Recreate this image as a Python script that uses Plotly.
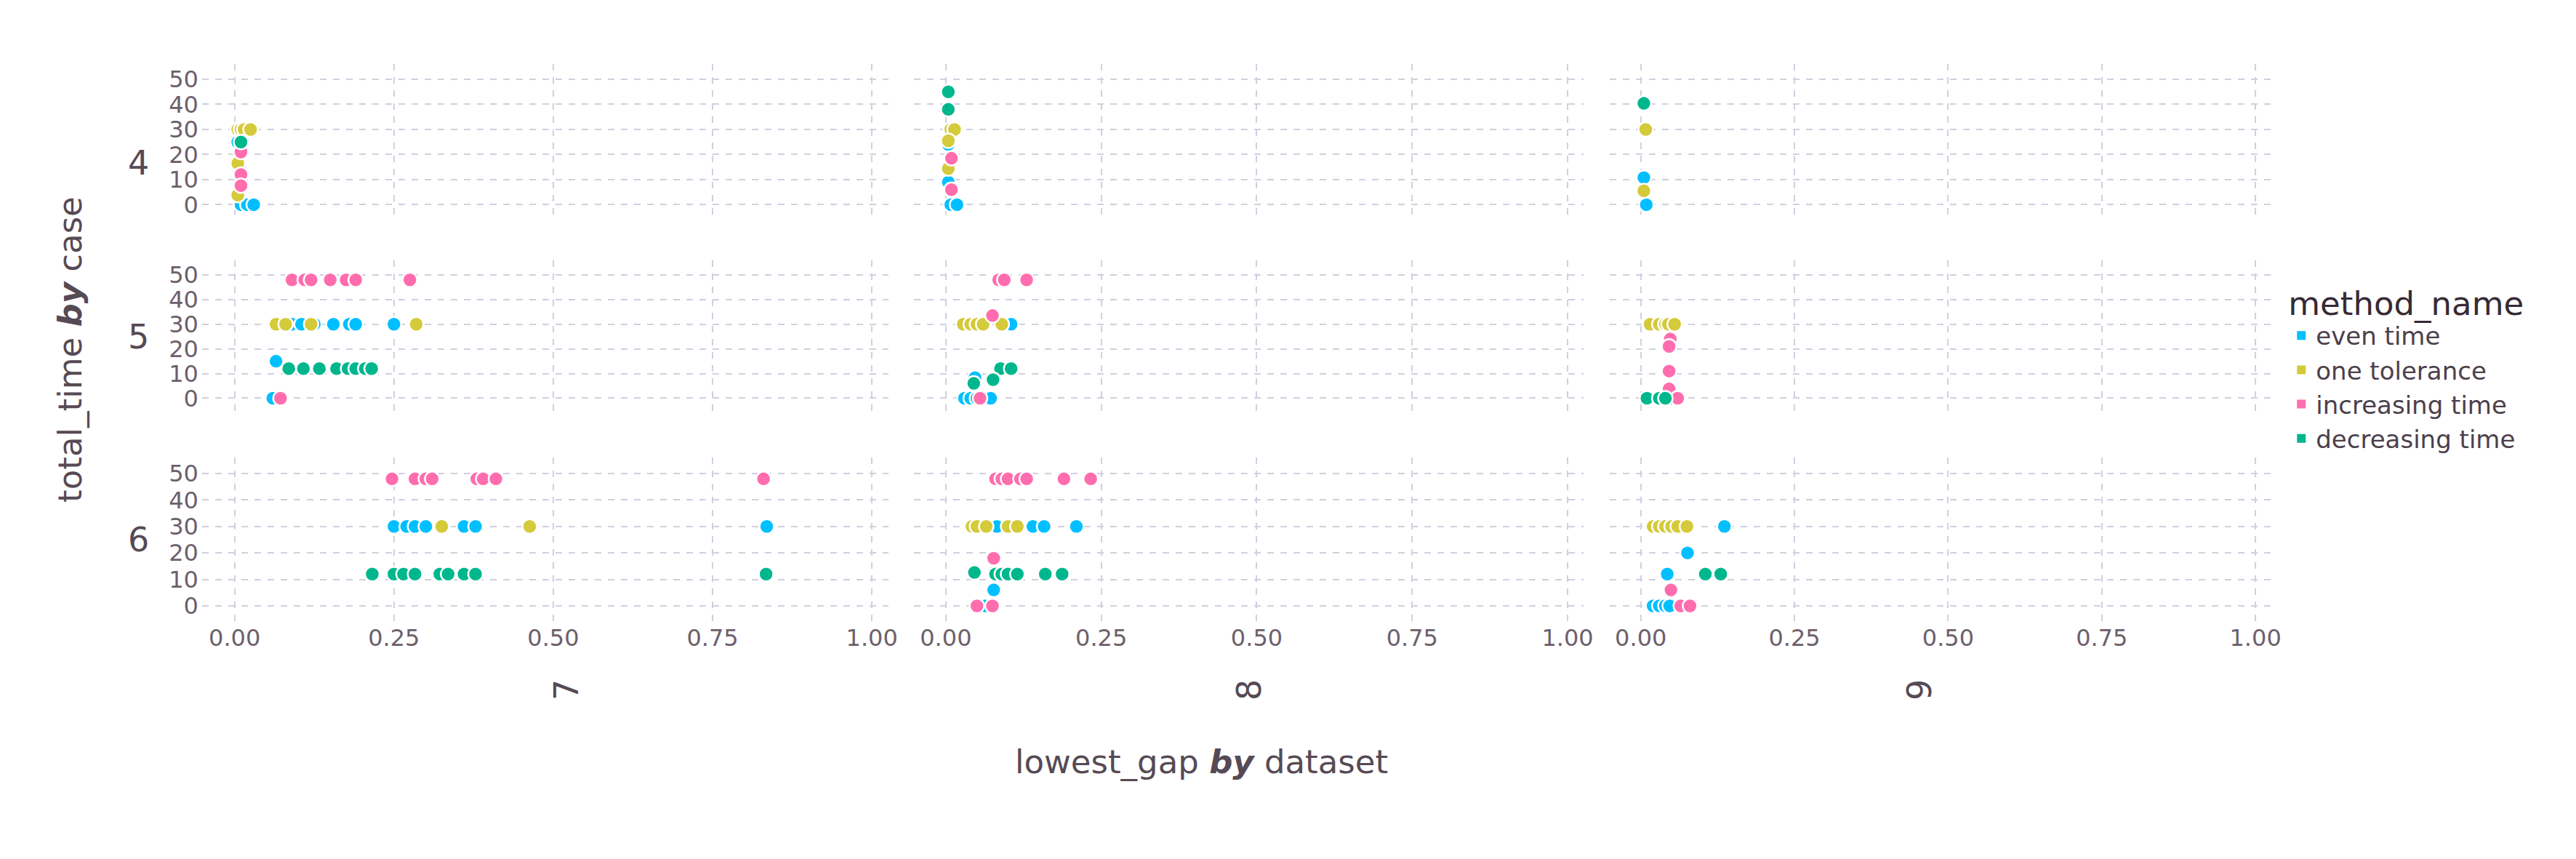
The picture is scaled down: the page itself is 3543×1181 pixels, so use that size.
import plotly.graph_objects as go
from plotly.subplots import make_subplots

methods = ["even time", "one tolerance", "increasing time", "decreasing time"]
colors = ["#00BFFF", "#D4CA3A", "#FF6DAE", "#00B78D"]
cases = [4, 5, 6]
datasets = [7, 8, 9]

# (case, dataset) -> method -> (lowest_gap list, total_time list)
pts = {
    (4, 7): {
        "even time": ([0.005, 0.008, 0.01, 0.02, 0.03], [25, 14, 0, 0, 0]),
        "one tolerance": ([0.005, 0.01, 0.015, 0.025, 0.005, 0.005], [30, 30, 30, 30, 16.5, 3.8]),
        "increasing time": ([0.01, 0.01, 0.01], [21, 12, 7.6]),
        "decreasing time": ([0.01], [25]),
    },
    (5, 7): {
        "even time": ([0.09, 0.105, 0.125, 0.155, 0.18, 0.19, 0.25, 0.065, 0.06], [30, 30, 30, 30, 30, 30, 30, 15, 0]),
        "one tolerance": ([0.065, 0.08, 0.12, 0.285], [30, 30, 30, 30]),
        "increasing time": ([0.09, 0.11, 0.12, 0.15, 0.175, 0.19, 0.275, 0.072], [48, 48, 48, 48, 48, 48, 48, 0]),
        "decreasing time": ([0.085, 0.108, 0.133, 0.16, 0.178, 0.19, 0.205, 0.215], [12, 12, 12, 12, 12, 12, 12, 12]),
    },
    (6, 7): {
        "even time": ([0.25, 0.27, 0.283, 0.3, 0.36, 0.378, 0.835], [30, 30, 30, 30, 30, 30, 30]),
        "one tolerance": ([0.325, 0.463], [30, 30]),
        "increasing time": ([0.247, 0.283, 0.3, 0.31, 0.38, 0.39, 0.41, 0.83], [48, 48, 48, 48, 48, 48, 48, 48]),
        "decreasing time": ([0.216, 0.25, 0.265, 0.283, 0.322, 0.335, 0.36, 0.378, 0.834], [12, 12, 12, 12, 12, 12, 12, 12, 12]),
    },
    (4, 8): {
        "even time": ([0.004, 0.004, 0.008, 0.018], [24, 9, 0, 0]),
        "one tolerance": ([0.008, 0.014, 0.004, 0.004], [30, 30, 25.5, 14.4]),
        "increasing time": ([0.009, 0.009], [18.5, 6]),
        "decreasing time": ([0.004, 0.004], [45, 38]),
    },
    (5, 8): {
        "even time": ([0.105, 0.047, 0.03, 0.04, 0.05, 0.072], [30, 8.3, 0, 0, 0, 0]),
        "one tolerance": ([0.028, 0.04, 0.05, 0.06, 0.09], [30, 30, 30, 30, 30]),
        "increasing time": ([0.085, 0.094, 0.13, 0.075, 0.055], [48, 48, 48, 33.5, 0]),
        "decreasing time": ([0.088, 0.105, 0.076, 0.045], [12, 12, 7.5, 6]),
    },
    (6, 8): {
        "even time": ([0.082, 0.14, 0.158, 0.21, 0.078, 0.077, 0.063], [30, 30, 30, 30, 12.6, 6, 0]),
        "one tolerance": ([0.042, 0.05, 0.065, 0.1, 0.115], [30, 30, 30, 30, 30]),
        "increasing time": ([0.08, 0.09, 0.1, 0.12, 0.13, 0.19, 0.233, 0.077, 0.05, 0.075], [48, 48, 48, 48, 48, 48, 48, 18, 0, 0]),
        "decreasing time": ([0.046, 0.08, 0.09, 0.1, 0.115, 0.16, 0.187], [12.6, 12, 12, 12, 12, 12, 12]),
    },
    (4, 9): {
        "even time": ([0.005, 0.009], [10.8, 0]),
        "one tolerance": ([0.008, 0.005], [30, 5.5]),
        "increasing time": ([], []),
        "decreasing time": ([0.005], [40.4]),
    },
    (5, 9): {
        "even time": ([0.05], [0]),
        "one tolerance": ([0.015, 0.03, 0.04, 0.045, 0.055], [30, 30, 30, 30, 30]),
        "increasing time": ([0.048, 0.046, 0.046, 0.046, 0.06], [24, 21, 11, 3.8, 0]),
        "decreasing time": ([0.01, 0.03, 0.04], [0, 0, 0]),
    },
    (6, 9): {
        "even time": ([0.136, 0.076, 0.043, 0.02, 0.03, 0.04, 0.047], [30, 20, 12, 0, 0, 0, 0]),
        "one tolerance": ([0.02, 0.03, 0.04, 0.05, 0.06, 0.075], [30, 30, 30, 30, 30, 30]),
        "increasing time": ([0.049, 0.065, 0.08], [6, 0, 0]),
        "decreasing time": ([0.105, 0.13], [12, 12]),
    },
}

fig = make_subplots(rows=3, cols=3)

for i, case in enumerate(cases):
    for j, ds in enumerate(datasets):
        for m, col in zip(methods, colors):
            xs, ys = pts[(case, ds)][m]
            fig.add_trace(go.Scatter(x=xs, y=ys, mode="markers", showlegend=False,
                                     marker=dict(color=col, size=20, line=dict(color="white", width=2.5))),
                          row=i + 1, col=j + 1)

for m, col in zip(methods, colors):
    fig.add_trace(go.Scatter(x=[None], y=[None], mode="markers", name=m,
                             marker=dict(color=col, size=28, symbol="square")))

xdoms = [(0.0765, 0.344), (0.354, 0.615), (0.625, 0.883)]
ydoms = [(0.751, 0.932), (0.526, 0.704), (0.283, 0.474)]
grid = dict(showgrid=True, gridcolor="#D0D0E0", griddash="dash", gridwidth=2, zeroline=False,
            showline=False, tickfont=dict(size=32, color="#6c606b"))
for i in range(3):
    for j in range(3):
        n = i * 3 + j + 1
        fig.layout["xaxis%s" % ("" if n == 1 else n)].update(
            domain=xdoms[j], range=[-0.051, 1.026], tickvals=[0, 0.25, 0.5, 0.75, 1.0],
            ticktext=["0.00", "0.25", "0.50", "0.75", "1.00"], showticklabels=(i == 2), **grid)
        fig.layout["yaxis%s" % ("" if n == 1 else n)].update(
            domain=ydoms[i], range=[-6, 56], tickvals=[0, 10, 20, 30, 40, 50],
            showticklabels=(j == 0), ticklabelstandoff=4, **grid)

ann = []
for i, case in enumerate(cases):
    ann.append(dict(text=str(case), x=0.047, y=sum(ydoms[i]) / 2, xref="paper", yref="paper",
                    showarrow=False, font=dict(size=46, color="#564a55")))
for j, ds in enumerate(datasets):
    ann.append(dict(text=str(ds), x=sum(xdoms[j]) / 2, y=0.19, xref="paper", yref="paper",
                    showarrow=False, textangle=-90, font=dict(size=46, color="#564a55")))
ann.append(dict(text="lowest_gap <b><i>by</i></b> dataset", x=0.466, y=0.096, xref="paper", yref="paper",
                showarrow=False, font=dict(size=45, color="#564a55")))
ann.append(dict(text="total_time <b><i>by</i></b> case", x=0.017, y=0.6, xref="paper", yref="paper",
                showarrow=False, textangle=-90, font=dict(size=45, color="#564a55")))

fig.update_layout(
    width=3543, height=1181, margin=dict(l=0, r=0, t=0, b=0),
    plot_bgcolor="white", paper_bgcolor="white",
    font=dict(family="DejaVu Sans"),
    annotations=ann,
    legend=dict(x=0.889, y=0.69, xanchor="left", yanchor="top",
                title=dict(text="method_name", font=dict(size=45, color="#362a35")),
                font=dict(size=34, color="#4c404b"), tracegroupgap=8, itemsizing="constant"),
)

fig.write_html("out.html")
